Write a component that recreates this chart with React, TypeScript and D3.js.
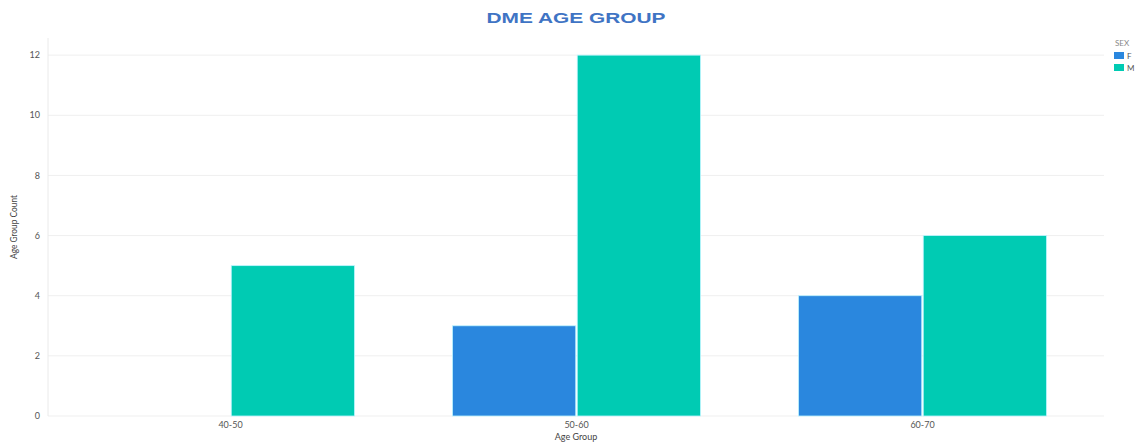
import React from "react";
import * as d3 from "d3";

const categories = ["40-50", "50-60", "60-70"];
const seriesNames = ["F", "M"];
const valuesF = [0, 3, 4];
const valuesM = [5, 12, 6];
const yTicks = [0, 2, 4, 6, 8, 10, 12];
const colors = ["#2a87de", "#00cbb3"];

export default function App() {
  const W = 1136, H = 445;
  const plotLeft = 48, plotRight = 1104, plotTop = 38, plotBottom = 416;
  const x = d3.scaleBand<string>().domain(categories).range([57.5, 1095.5]).paddingInner(0.283).paddingOuter(0.1415);
  const xs = d3.scaleBand<string>().domain(seriesNames).range([0, x.bandwidth()]).paddingInner(0.012);
  const y = d3.scaleLinear().domain([0, 12.57]).range([plotBottom, plotTop]);
  const series = [valuesF, valuesM];

  return (
    <svg width={W} height={H} style={{ position: "absolute", left: 0, top: 0, background: "#fff" }} fontFamily="Lato, 'Open Sans', sans-serif">
      <text x={576} y={23} textAnchor="middle" fontFamily="'Liberation Sans', Arial, sans-serif" fontWeight="bold" fontSize={14.5} fill="#3f74c4" textLength={179} lengthAdjust="spacingAndGlyphs">DME AGE GROUP</text>
      {yTicks.map((t) => (
        <g key={t}>
          <line x1={plotLeft} x2={plotRight} y1={y(t)} y2={y(t)} stroke="#efefef" strokeWidth={1} />
          <text x={plotLeft - 8} y={y(t)} dy="0.35em" textAnchor="end" fontSize={9} fill="#555">{t}</text>
        </g>
      ))}
      <line x1={plotLeft} x2={plotLeft} y1={plotTop} y2={plotBottom} stroke="#eaeaea" />
      {categories.map((c, i) => (
        <g key={c}>
          {seriesNames.map((s, j) => {
            const v = series[j][i];
            if (!v) return null;
            return (
              <rect key={s} x={(x(c) ?? 0) + (xs(s) ?? 0)} width={xs.bandwidth()} y={y(v)} height={y(0) - y(v)} fill={colors[j]} stroke="#bff5ff" strokeWidth={0.8} />
            );
          })}
          <text x={(x(c) ?? 0) + x.bandwidth() / 2} y={428} textAnchor="middle" fontSize={9} fill="#555">{c}</text>
        </g>
      ))}
      <text x={576} y={440} textAnchor="middle" fontSize={9} fill="#444">Age Group</text>
      <text transform={`translate(17,${(plotTop + plotBottom) / 2}) rotate(-90)`} textAnchor="middle" fontSize={8.5} fill="#444" textLength={64} lengthAdjust="spacingAndGlyphs">Age Group Count</text>
      <text x={1115} y={46} fontSize={8} fill="#888">SEX</text>
      {seriesNames.map((s, j) => (
        <g key={s}>
          <rect x={1114} y={52 + j * 12} width={10} height={7} fill={colors[j]} />
          <text x={1127} y={59 + j * 12} fontSize={8} fill="#555">{s}</text>
        </g>
      ))}
    </svg>
  );
}
